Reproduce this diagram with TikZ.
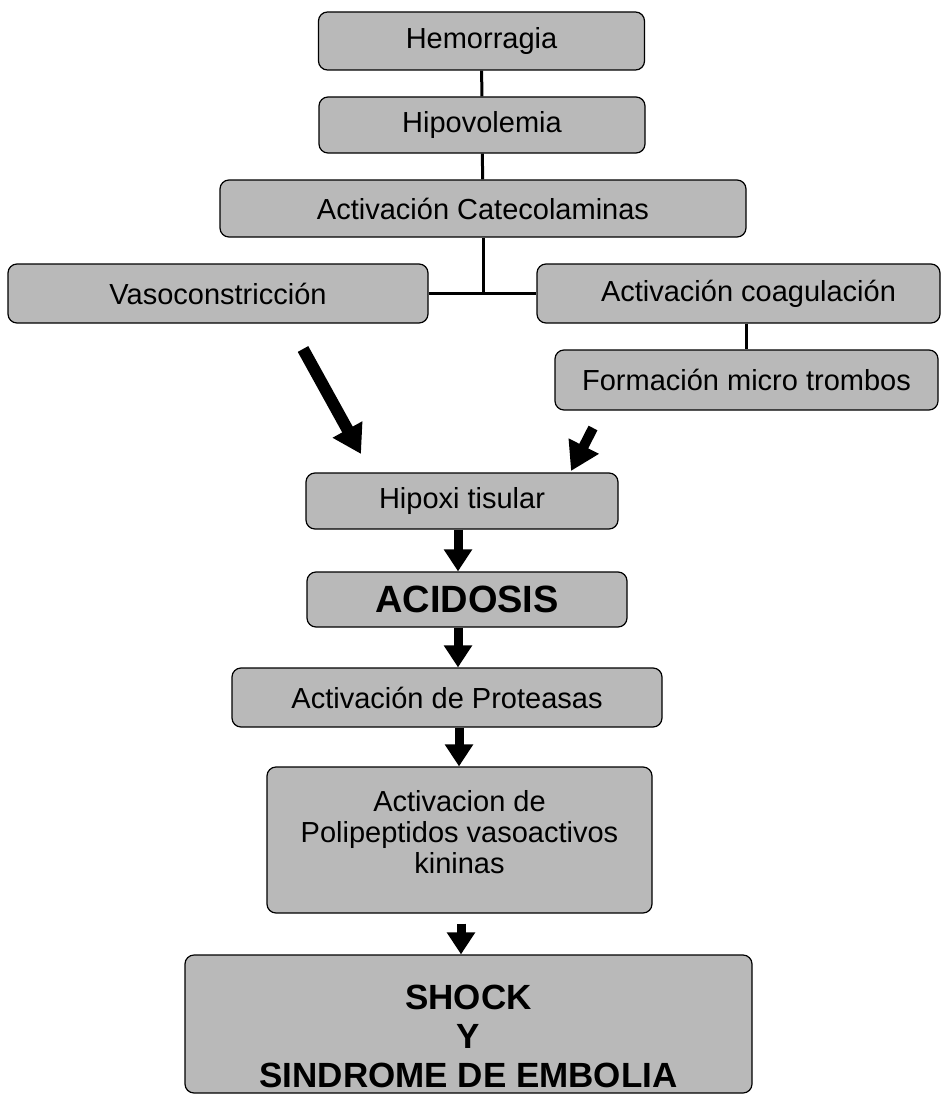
\documentclass[tikz,border=0pt]{standalone}
\usepackage{fontspec}
\setmainfont{Liberation Sans}
\usetikzlibrary{arrows.meta,calc}
\tikzset{
  box/.style={draw=black,line width=1.2pt,fill=gray!55,rounded corners=9pt,align=center,inner sep=0pt,font=\fontsize{29}{31}\selectfont},
  bigtext/.style={font=\fontsize{38}{40}\selectfont\bfseries},
  endtext/.style={font=\fontsize{35}{39}\selectfont\bfseries},
  link/.style={line width=3pt,black},
  bigarrow/.style={line width=9pt,black,-{Triangle[length=22pt,width=27pt]}},
  slantarrow/.style={line width=12pt,black,-{Triangle[length=28pt,width=32pt]}}
}

\begin{document}
\begin{tikzpicture}[x=1pt,y=1pt,yscale=-1]
\useasboundingbox (0,0) rectangle (942,1097);

% upper chain
\node[box,minimum width=326pt,minimum height=58pt] (hem) at (481.5,41) {Hemorragia};
\node[box,minimum width=326pt,minimum height=56pt] (hipo) at (482,125) {Hipovolemia};
\node[box,minimum width=526pt,minimum height=57pt] (cate) at (483,208.5) {Activación Catecolaminas};

% side branches
\node[box,minimum width=420pt,minimum height=59pt] (vaso) at (218,293.5) {Vasoconstricción};
\node[box,minimum width=403pt,minimum height=59pt] (coag) at (738.5,293.5) {\hspace*{20pt}Activación coagulación};
\node[box,minimum width=383pt,minimum height=60pt] (trom) at (746.5,380) {Formación micro trombos};

% lower chain
\node[box,minimum width=312pt,minimum height=56pt] (hipox) at (462,501) {Hipoxi tisular};
\node[box,minimum width=320pt,minimum height=55pt,bigtext] (acid) at (467,599.5) {ACIDOSIS};
\node[box,minimum width=430pt,minimum height=59pt] (prot) at (447,697.5) {Activación de Proteasas};
\node[box,minimum width=385pt,minimum height=146pt] (poli) at (459.5,840) {Activacion de\\Polipeptidos vasoactivos\\kininas\rule[-16pt]{0pt}{0pt}};
\node[box,minimum width=567pt,minimum height=138pt,endtext] (shock) at (468.5,1024) {\rule{0pt}{50pt}SHOCK\\Y\\SINDROME DE EMBOLIA};

\coordinate (j) at (483,293.5);
\coordinate (ax) at (458,0);
\coordinate (d1) at (303,349);
\coordinate (d2) at (361,454);
\coordinate (s1) at (593,428);
\coordinate (s2) at (571,471);

% connectors
\draw[link] (hem) -- (hipo);
\draw[link] (hipo) -- (cate);
\draw[link] (cate.south -| j) -- (j);
\draw[link] (vaso.east) -- (coag.west);
\draw[link] (trom.north |- coag.south) -- (trom.north);

% arrows
\draw[slantarrow] (d1) -- (d2);
\draw[slantarrow,line width=10pt] (s1) -- (s2);
\draw[bigarrow] (hipox.south -| ax) -- (acid.north -| ax);
\draw[bigarrow] (acid.south -| ax) -- (prot.north -| ax);
\draw[bigarrow] ($(prot.south -| ax)+(1,0)$) -- ($(poli.north -| ax)+(1,0)$);
\draw[bigarrow] ($(poli.south -| ax)+(3,10)$) -- ($(shock.north -| ax)+(3,0)$);

\end{tikzpicture}
\end{document}
